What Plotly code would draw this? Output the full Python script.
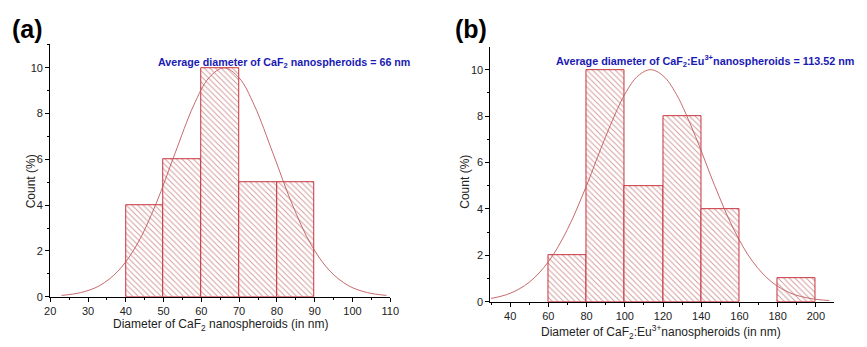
import plotly.graph_objects as go

# ---- data (panel a) ----
a_left = [40, 50, 60, 70, 80]
a_right = [50, 60, 70, 80, 90]
a_count = [4, 6, 10, 5, 5]
a_fit_x = [23, 28, 33, 38, 43, 48, 53, 58, 62, 66, 70, 74, 79, 84, 89, 94, 99, 104, 109]
a_fit_y = [0.06, 0.18, 0.48, 1.13, 2.29, 4.06, 6.25, 8.37, 9.56, 10, 9.56, 8.37, 6.25, 4.06, 2.29, 1.13, 0.48, 0.18, 0.06]

# ---- data (panel b) ----
b_left = [60, 80, 100, 120, 140, 180]
b_right = [80, 100, 120, 140, 160, 200]
b_count = [2, 10, 5, 8, 4, 1]
b_fit_x = [30, 40, 50, 60, 70, 80, 90, 100, 107, 113.5, 120, 127, 137, 147, 157, 167, 177, 187, 197, 207]
b_fit_y = [0.14, 0.36, 0.84, 1.72, 3.12, 5.01, 7.12, 8.94, 9.74, 10, 9.74, 8.94, 7.12, 5.01, 3.12, 1.72, 0.84, 0.36, 0.14, 0.05]

a_xtick_step = 10
b_xtick_step = 20
ytick_step = 2

BAR_LINE = "#c8323c"
HATCH = "#a83c3c"
FIT = "#c05a5a"
FONT = "Liberation Sans, Arial, sans-serif"

fig = go.Figure()

def add_hist(left, right, count, xa, ya):
    centers = [(l + r) / 2 for l, r in zip(left, right)]
    widths = [r - l for l, r in zip(left, right)]
    fig.add_trace(go.Bar(
        x=centers, y=count, width=widths, xaxis=xa, yaxis=ya,
        marker=dict(color="white", line=dict(color=BAR_LINE, width=1),
                    pattern=dict(shape="\\", fgcolor=HATCH, bgcolor="white",
                                 size=4, solidity=0.25)),
        showlegend=False))

add_hist(a_left, a_right, a_count, "x", "y")
add_hist(b_left, b_right, b_count, "x2", "y2")

fig.add_trace(go.Scatter(x=a_fit_x, y=a_fit_y, mode="lines", line=dict(color=FIT, width=0.9, shape="spline"),
                         xaxis="x", yaxis="y", showlegend=False))
fig.add_trace(go.Scatter(x=b_fit_x, y=b_fit_y, mode="lines", line=dict(color=FIT, width=0.9, shape="spline"),
                         xaxis="x2", yaxis="y2", showlegend=False))

axis_common = dict(showline=True, linecolor="black", linewidth=1.2, ticks="outside", ticklen=4,
                   tickcolor="black", showgrid=False, zeroline=False, tick0=0,
                   tickfont=dict(size=11, color="#222", family=FONT))

fig.update_layout(
    width=867, height=347, margin=dict(l=0, r=0, t=0, b=0),
    paper_bgcolor="white", plot_bgcolor="white", bargap=0,
    font=dict(family=FONT),
    xaxis=dict(domain=[45/867, 391/867], range=[20, 110], dtick=a_xtick_step,
               minor=dict(ticks="outside", ticklen=2, dtick=a_xtick_step / 2, tick0=0, tickcolor="black"),
               anchor="y", **axis_common),
    yaxis=dict(domain=[45/347, 302/347], range=[0, 11.03], dtick=ytick_step,
               minor=dict(ticks="outside", ticklen=2, dtick=ytick_step / 2, tick0=0, tickcolor="black"),
               anchor="x", **axis_common),
    xaxis2=dict(domain=[493/867, 843/867], range=[29.7, 209.7], dtick=b_xtick_step,
                minor=dict(ticks="outside", ticklen=2, dtick=b_xtick_step / 2, tick0=0, tickcolor="black"),
                anchor="y2", **axis_common),
    yaxis2=dict(domain=[40/347, 299/347], range=[0, 10.97], dtick=ytick_step,
                minor=dict(ticks="outside", ticklen=2, dtick=ytick_step / 2, tick0=0, tickcolor="black"),
                anchor="x2", **axis_common),
)

ann = []
ann.append(dict(text="<b>(a)</b>", x=4/867, y=(347-30)/347, xref="paper", yref="paper",
                xanchor="left", yanchor="middle", showarrow=False, font=dict(size=25, color="black", family=FONT)))
ann.append(dict(text="<b>(b)</b>", x=455/867, y=(347-30)/347, xref="paper", yref="paper",
                xanchor="left", yanchor="middle", showarrow=False, font=dict(size=25, color="black", family=FONT)))
ann.append(dict(text="<b>Average diameter of CaF<sub>2</sub> nanospheroids = 66 nm</b>", x=283/867, y=(347-64)/347,
                xref="paper", yref="paper", xanchor="center", yanchor="middle", showarrow=False,
                font=dict(size=10.7, color="#1a1ab4", family=FONT)))
ann.append(dict(text="<b>Average diameter of CaF<sub>2</sub>:Eu<sup>3+</sup>nanospheroids = 113.52 nm</b>", x=865/867, y=(347-62)/347,
                xref="paper", yref="paper", xanchor="right", yanchor="middle", showarrow=False,
                font=dict(size=10.8, color="#1a1ab4", family=FONT)))
ann.append(dict(text="Count (%)", x=25/867, y=(347-185)/347, xref="paper", yref="paper", textangle=-90,
                xanchor="center", yanchor="middle", showarrow=False, font=dict(size=12, color="#222", family=FONT)))
ann.append(dict(text="Count (%)", x=467/867, y=(347-185)/347, xref="paper", yref="paper", textangle=-90,
                xanchor="center", yanchor="middle", showarrow=False, font=dict(size=12, color="#222", family=FONT)))
ann.append(dict(text="Diameter of CaF<sub>2</sub> nanospheroids (in nm)", x=218/867, y=(347-331)/347,
                xref="paper", yref="paper", xanchor="center", yanchor="middle", showarrow=False,
                font=dict(size=12, color="#222", family=FONT)))
ann.append(dict(text="Diameter of CaF<sub>2</sub>:Eu<sup>3+</sup>nanospheroids (in nm)", x=667/867, y=(347-338)/347,
                xref="paper", yref="paper", xanchor="center", yanchor="middle", showarrow=False,
                font=dict(size=12, color="#222", family=FONT)))
fig.update_layout(annotations=ann)

fig.write_html("out.html")
